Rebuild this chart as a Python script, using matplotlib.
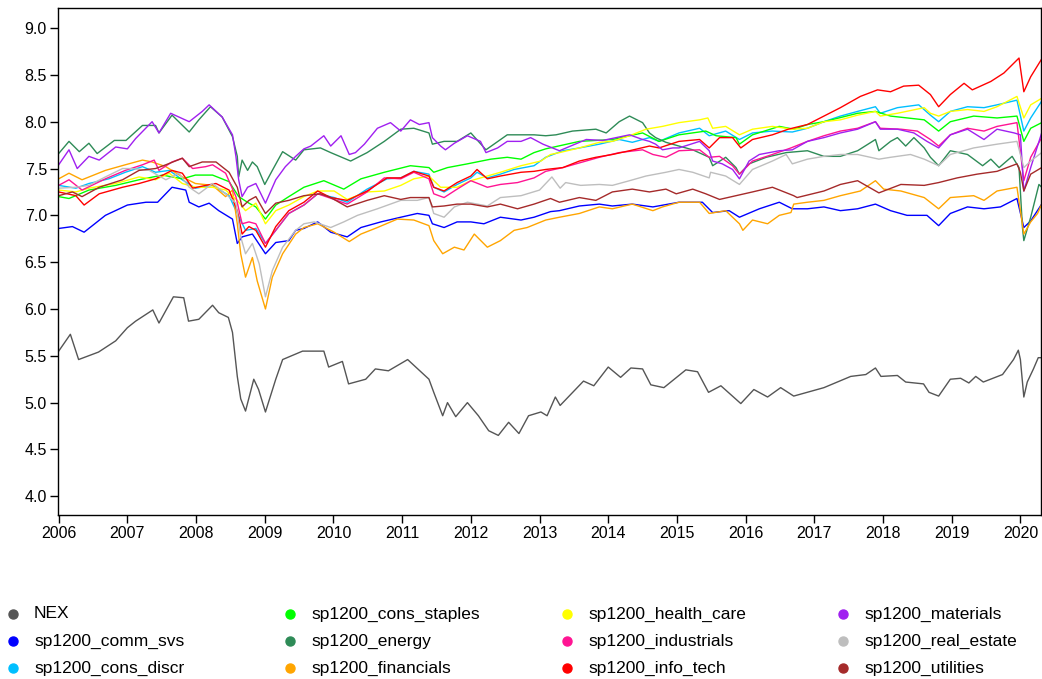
import matplotlib
matplotlib.use("Agg")
from matplotlib import pyplot as plt
from matplotlib.lines import Line2D
import numpy as np

plt.rcParams['font.family'] = ['Liberation Sans', 'DejaVu Sans']

# (year, log level) pairs
nex = [(2006.0, 5.55), (2006.17, 5.73), (2006.29, 5.46), (2006.58, 5.54), (2006.83, 5.66),
       (2007.0, 5.80), (2007.12, 5.87), (2007.37, 5.99), (2007.46, 5.85), (2007.67, 6.13),
       (2007.82, 6.12), (2007.89, 5.87), (2008.04, 5.89), (2008.24, 6.04), (2008.33, 5.96),
       (2008.47, 5.91), (2008.53, 5.75), (2008.6, 5.28), (2008.65, 5.04), (2008.72, 4.91),
       (2008.84, 5.25), (2008.91, 5.14), (2009.01, 4.90), (2009.16, 5.25), (2009.26, 5.46),
       (2009.55, 5.55), (2009.86, 5.55), (2009.93, 5.38), (2010.13, 5.44), (2010.22, 5.20),
       (2010.47, 5.25), (2010.61, 5.36), (2010.8, 5.34), (2011.08, 5.46), (2011.39, 5.25),
       (2011.46, 5.11), (2011.59, 4.86), (2011.66, 5.0), (2011.78, 4.85), (2011.95, 5.0),
       (2012.11, 4.86), (2012.26, 4.70), (2012.4, 4.65), (2012.55, 4.79), (2012.7, 4.67),
       (2012.84, 4.86), (2013.02, 4.90), (2013.11, 4.86), (2013.23, 5.06), (2013.3, 4.97),
       (2013.64, 5.23), (2013.79, 5.18), (2014.0, 5.38), (2014.18, 5.27), (2014.33, 5.37),
       (2014.5, 5.36), (2014.62, 5.19), (2014.81, 5.16), (2015.13, 5.35), (2015.3, 5.33),
       (2015.46, 5.11), (2015.64, 5.18), (2015.93, 4.99), (2016.12, 5.14), (2016.32, 5.06),
       (2016.51, 5.16), (2016.7, 5.07), (2017.14, 5.16), (2017.53, 5.28), (2017.75, 5.30),
       (2017.89, 5.37), (2017.97, 5.28), (2018.21, 5.29), (2018.33, 5.22), (2018.59, 5.20),
       (2018.67, 5.11), (2018.81, 5.07), (2018.98, 5.25), (2019.13, 5.26), (2019.25, 5.21),
       (2019.35, 5.28), (2019.46, 5.22), (2019.74, 5.30), (2019.9, 5.46), (2019.97, 5.56),
       (2020.0, 5.46), (2020.05, 5.06), (2020.1, 5.22), (2020.19, 5.36), (2020.26, 5.48),
       (2020.31, 5.48)]

comm_svs = [(2006.0, 6.86), (2006.2, 6.88), (2006.37, 6.82), (2006.68, 7.0), (2007.0, 7.11),
            (2007.27, 7.14), (2007.44, 7.14), (2007.65, 7.30), (2007.85, 7.27), (2007.9, 7.14),
            (2008.04, 7.09), (2008.19, 7.13), (2008.33, 7.05), (2008.53, 6.96), (2008.6, 6.70),
            (2008.67, 6.77), (2008.82, 6.80), (2009.01, 6.59), (2009.16, 6.71), (2009.35, 6.73),
            (2009.45, 6.84), (2009.57, 6.86), (2009.77, 6.93), (2009.96, 6.82), (2010.2, 6.77),
            (2010.4, 6.87), (2010.69, 6.93), (2010.98, 6.98), (2011.22, 7.02), (2011.39, 7.0),
            (2011.44, 6.91), (2011.61, 6.87), (2011.8, 6.93), (2012.0, 6.93), (2012.19, 6.91),
            (2012.43, 6.98), (2012.73, 6.95), (2012.92, 6.98), (2013.16, 7.04), (2013.29, 7.05),
            (2013.58, 7.10), (2013.87, 7.12), (2014.06, 7.10), (2014.35, 7.12), (2014.65, 7.09),
            (2015.03, 7.14), (2015.37, 7.14), (2015.52, 7.03), (2015.76, 7.05), (2015.91, 6.98),
            (2016.2, 7.07), (2016.49, 7.14), (2016.68, 7.07), (2016.9, 7.07), (2017.14, 7.09),
            (2017.38, 7.05), (2017.63, 7.07), (2017.89, 7.12), (2018.11, 7.05), (2018.35, 7.0),
            (2018.64, 7.0), (2018.81, 6.89), (2018.98, 7.02), (2019.23, 7.09), (2019.47, 7.07),
            (2019.71, 7.09), (2019.95, 7.18), (2020.05, 6.87), (2020.15, 6.94), (2020.31, 7.12)]

cons_discr = [(2006.0, 7.32), (2006.25, 7.29), (2006.44, 7.34), (2006.73, 7.39), (2006.97, 7.46),
              (2007.22, 7.52), (2007.41, 7.46), (2007.61, 7.48), (2007.8, 7.38), (2007.99, 7.29),
              (2008.24, 7.32), (2008.48, 7.21), (2008.6, 7.02), (2008.72, 6.84), (2008.87, 6.86),
              (2009.01, 6.70), (2009.16, 6.84), (2009.35, 7.02), (2009.57, 7.11), (2009.77, 7.23),
              (2010.01, 7.19), (2010.2, 7.14), (2010.49, 7.28), (2010.78, 7.39), (2010.98, 7.40),
              (2011.17, 7.47), (2011.39, 7.44), (2011.46, 7.30), (2011.61, 7.25), (2011.8, 7.33),
              (2012.0, 7.40), (2012.09, 7.46), (2012.24, 7.40), (2012.43, 7.44), (2012.63, 7.49),
              (2012.92, 7.53), (2013.09, 7.62), (2013.34, 7.69), (2013.58, 7.72), (2013.87, 7.76),
              (2014.16, 7.81), (2014.35, 7.78), (2014.6, 7.83), (2014.74, 7.79), (2015.03, 7.88),
              (2015.33, 7.93), (2015.47, 7.85), (2015.71, 7.90), (2015.91, 7.81), (2016.1, 7.88),
              (2016.39, 7.90), (2016.68, 7.89), (2016.9, 7.93), (2017.14, 8.0), (2017.38, 8.06),
              (2017.63, 8.11), (2017.89, 8.16), (2017.96, 8.09), (2018.21, 8.15), (2018.52, 8.18),
              (2018.69, 8.07), (2018.81, 8.0), (2018.98, 8.11), (2019.23, 8.16), (2019.47, 8.15),
              (2019.66, 8.18), (2019.95, 8.23), (2020.05, 7.90), (2020.15, 8.04), (2020.31, 8.22)]

cons_staples = [(2006.0, 7.20), (2006.15, 7.18), (2006.44, 7.27), (2006.83, 7.32), (2007.17, 7.38),
                (2007.51, 7.43), (2007.8, 7.39), (2007.99, 7.43), (2008.24, 7.43), (2008.48, 7.36),
                (2008.62, 7.20), (2008.77, 7.13), (2008.87, 7.09), (2009.01, 6.96), (2009.16, 7.11),
                (2009.35, 7.20), (2009.57, 7.30), (2009.86, 7.37), (2010.15, 7.28), (2010.4, 7.39),
                (2010.74, 7.46), (2011.12, 7.53), (2011.39, 7.51), (2011.46, 7.46), (2011.66, 7.51),
                (2011.95, 7.55), (2012.29, 7.60), (2012.53, 7.62), (2012.73, 7.60), (2012.92, 7.67),
                (2013.09, 7.71), (2013.58, 7.79), (2014.06, 7.81), (2014.5, 7.88), (2014.74, 7.79),
                (2015.03, 7.86), (2015.42, 7.90), (2015.57, 7.85), (2015.86, 7.83), (2015.91, 7.76),
                (2016.1, 7.86), (2016.49, 7.95), (2016.7, 7.92), (2016.9, 7.97), (2017.14, 8.0),
                (2017.63, 8.09), (2017.89, 8.11), (2018.11, 8.06), (2018.6, 8.02), (2018.81, 7.90),
                (2018.98, 8.0), (2019.32, 8.06), (2019.66, 8.04), (2019.95, 8.06), (2020.05, 7.79),
                (2020.15, 7.93), (2020.31, 7.99)]

energy = [(2006.0, 7.66), (2006.15, 7.79), (2006.3, 7.68), (2006.44, 7.77), (2006.56, 7.66),
          (2006.81, 7.80), (2006.98, 7.80), (2007.22, 7.96), (2007.41, 7.96), (2007.46, 7.88),
          (2007.65, 8.07), (2007.9, 7.89), (2008.04, 8.02), (2008.21, 8.16), (2008.38, 8.05),
          (2008.53, 7.84), (2008.6, 7.63), (2008.62, 7.41), (2008.67, 7.59), (2008.75, 7.48),
          (2008.82, 7.57), (2008.89, 7.52), (2009.0, 7.33), (2009.11, 7.48), (2009.26, 7.68),
          (2009.45, 7.59), (2009.57, 7.70), (2009.81, 7.72), (2009.96, 7.67), (2010.25, 7.58),
          (2010.49, 7.67), (2010.74, 7.79), (2010.98, 7.92), (2011.17, 7.93), (2011.39, 7.88),
          (2011.44, 7.76), (2011.61, 7.79), (2011.8, 7.79), (2012.0, 7.88), (2012.22, 7.70),
          (2012.53, 7.86), (2012.92, 7.86), (2013.09, 7.85), (2013.24, 7.86), (2013.48, 7.90),
          (2013.82, 7.92), (2013.97, 7.88), (2014.16, 8.0), (2014.31, 8.06), (2014.5, 7.99),
          (2014.6, 7.88), (2014.69, 7.83), (2014.84, 7.78), (2015.03, 7.74), (2015.23, 7.70),
          (2015.47, 7.62), (2015.52, 7.53), (2015.71, 7.62), (2015.86, 7.51), (2015.91, 7.44),
          (2016.05, 7.55), (2016.3, 7.62), (2016.59, 7.67), (2016.9, 7.69), (2017.14, 7.63),
          (2017.38, 7.63), (2017.63, 7.69), (2017.89, 7.81), (2017.94, 7.69), (2018.11, 7.79),
          (2018.21, 7.83), (2018.33, 7.74), (2018.45, 7.83), (2018.6, 7.72), (2018.69, 7.62),
          (2018.81, 7.53), (2018.98, 7.69), (2019.23, 7.65), (2019.45, 7.53), (2019.57, 7.60),
          (2019.69, 7.51), (2019.88, 7.63), (2019.98, 7.51), (2020.03, 6.87), (2020.05, 6.73),
          (2020.15, 6.98), (2020.27, 7.33), (2020.31, 7.30)]

financials = [(2006.0, 7.39), (2006.15, 7.45), (2006.34, 7.38), (2006.68, 7.48), (2006.97, 7.54),
              (2007.22, 7.59), (2007.36, 7.57), (2007.56, 7.52), (2007.8, 7.41), (2007.99, 7.34),
              (2008.24, 7.32), (2008.43, 7.20), (2008.53, 7.27), (2008.6, 6.91), (2008.65, 6.59),
              (2008.72, 6.34), (2008.82, 6.55), (2008.89, 6.30), (2009.01, 6.0), (2009.11, 6.34),
              (2009.26, 6.59), (2009.45, 6.80), (2009.57, 6.87), (2009.77, 6.91), (2010.01, 6.82),
              (2010.23, 6.72), (2010.4, 6.80), (2010.64, 6.87), (2010.93, 6.96), (2011.17, 6.95),
              (2011.39, 6.89), (2011.46, 6.73), (2011.59, 6.59), (2011.76, 6.66), (2011.9, 6.63),
              (2012.05, 6.80), (2012.24, 6.66), (2012.43, 6.73), (2012.63, 6.84), (2012.82, 6.87),
              (2013.09, 6.95), (2013.29, 6.98), (2013.58, 7.02), (2013.87, 7.09), (2014.06, 7.07),
              (2014.35, 7.12), (2014.65, 7.05), (2014.79, 7.09), (2015.03, 7.14), (2015.33, 7.14),
              (2015.47, 7.02), (2015.71, 7.05), (2015.91, 6.91), (2015.96, 6.84), (2016.1, 6.95),
              (2016.32, 6.91), (2016.49, 7.0), (2016.66, 7.03), (2016.7, 7.12), (2016.9, 7.14),
              (2017.14, 7.16), (2017.38, 7.21), (2017.67, 7.26), (2017.89, 7.37), (2018.01, 7.28),
              (2018.26, 7.26), (2018.6, 7.19), (2018.81, 7.07), (2018.98, 7.19), (2019.32, 7.21),
              (2019.47, 7.16), (2019.66, 7.26), (2019.95, 7.30), (2020.05, 6.80), (2020.15, 6.93),
              (2020.25, 7.02), (2020.31, 7.12)]

health_care = [(2006.0, 7.27), (2006.25, 7.25), (2006.44, 7.29), (2006.83, 7.34), (2007.17, 7.41),
               (2007.41, 7.38), (2007.61, 7.45), (2007.8, 7.34), (2007.99, 7.30), (2008.24, 7.30),
               (2008.43, 7.27), (2008.6, 7.16), (2008.72, 7.05), (2008.87, 7.13), (2009.01, 6.91),
               (2009.16, 7.05), (2009.35, 7.11), (2009.57, 7.20), (2009.77, 7.26), (2010.01, 7.26),
               (2010.2, 7.17), (2010.49, 7.25), (2010.74, 7.26), (2010.98, 7.32), (2011.17, 7.39),
               (2011.39, 7.42), (2011.56, 7.30), (2011.8, 7.30), (2012.0, 7.37), (2012.24, 7.42),
               (2012.43, 7.46), (2012.73, 7.53), (2013.02, 7.58), (2013.16, 7.65), (2013.29, 7.67),
               (2013.58, 7.72), (2013.87, 7.78), (2014.06, 7.79), (2014.31, 7.85), (2014.55, 7.92),
               (2014.79, 7.95), (2015.03, 7.99), (2015.33, 8.02), (2015.45, 8.04), (2015.52, 7.93),
               (2015.71, 7.95), (2015.91, 7.86), (2016.1, 7.92), (2016.39, 7.95), (2016.68, 7.92),
               (2016.9, 7.93), (2017.14, 8.0), (2017.38, 8.02), (2017.63, 8.07), (2017.89, 8.11),
               (2017.96, 8.06), (2018.21, 8.09), (2018.6, 8.15), (2018.69, 8.09), (2018.81, 8.06),
               (2018.98, 8.11), (2019.23, 8.13), (2019.47, 8.11), (2019.66, 8.16), (2019.95, 8.27),
               (2020.05, 8.04), (2020.15, 8.18), (2020.31, 8.25)]

industrials = [(2006.0, 7.32), (2006.15, 7.38), (2006.34, 7.27), (2006.68, 7.39), (2006.97, 7.48),
               (2007.22, 7.54), (2007.39, 7.59), (2007.46, 7.48), (2007.65, 7.57), (2007.8, 7.61),
               (2007.95, 7.50), (2008.14, 7.52), (2008.24, 7.54), (2008.43, 7.45), (2008.58, 7.20),
               (2008.67, 6.91), (2008.77, 6.93), (2008.87, 6.91), (2009.01, 6.70), (2009.16, 6.84),
               (2009.35, 7.02), (2009.57, 7.11), (2009.77, 7.23), (2010.01, 7.17), (2010.2, 7.12),
               (2010.49, 7.25), (2010.74, 7.40), (2010.98, 7.39), (2011.17, 7.46), (2011.39, 7.39),
               (2011.46, 7.23), (2011.61, 7.19), (2011.8, 7.28), (2012.0, 7.37), (2012.24, 7.30),
               (2012.43, 7.33), (2012.68, 7.35), (2012.92, 7.40), (2013.09, 7.47), (2013.34, 7.51),
               (2013.58, 7.56), (2013.87, 7.62), (2014.16, 7.67), (2014.5, 7.70), (2014.65, 7.65),
               (2014.84, 7.62), (2015.03, 7.69), (2015.33, 7.70), (2015.47, 7.62), (2015.62, 7.63),
               (2015.81, 7.53), (2015.91, 7.44), (2016.1, 7.58), (2016.39, 7.65), (2016.66, 7.72),
               (2016.9, 7.79), (2017.14, 7.85), (2017.38, 7.90), (2017.63, 7.93), (2017.89, 8.0),
               (2017.96, 7.93), (2018.26, 7.92), (2018.5, 7.90), (2018.69, 7.81), (2018.81, 7.74),
               (2018.98, 7.86), (2019.23, 7.93), (2019.47, 7.90), (2019.66, 7.95), (2019.95, 7.99),
               (2020.05, 7.37), (2020.15, 7.62), (2020.31, 7.83)]

info_tech = [(2006.0, 7.25), (2006.25, 7.21), (2006.37, 7.11), (2006.59, 7.23), (2006.93, 7.30),
             (2007.17, 7.34), (2007.41, 7.39), (2007.65, 7.48), (2007.8, 7.45), (2007.95, 7.29),
             (2008.14, 7.32), (2008.29, 7.34), (2008.48, 7.27), (2008.6, 7.05), (2008.67, 6.80),
             (2008.77, 6.88), (2008.87, 6.84), (2009.01, 6.66), (2009.16, 6.88), (2009.35, 7.05),
             (2009.57, 7.14), (2009.77, 7.26), (2009.96, 7.19), (2010.2, 7.16), (2010.49, 7.26),
             (2010.78, 7.40), (2010.98, 7.40), (2011.17, 7.47), (2011.39, 7.42), (2011.46, 7.30),
             (2011.61, 7.26), (2011.8, 7.35), (2012.0, 7.42), (2012.09, 7.49), (2012.24, 7.39),
             (2012.43, 7.42), (2012.73, 7.46), (2012.92, 7.47), (2013.09, 7.49), (2013.34, 7.51),
             (2013.58, 7.58), (2013.82, 7.62), (2014.06, 7.65), (2014.31, 7.69), (2014.6, 7.74),
             (2014.74, 7.72), (2015.03, 7.79), (2015.33, 7.81), (2015.47, 7.72), (2015.62, 7.83),
             (2015.81, 7.83), (2015.93, 7.72), (2016.1, 7.81), (2016.39, 7.86), (2016.62, 7.92),
             (2016.9, 7.97), (2017.14, 8.06), (2017.38, 8.15), (2017.67, 8.27), (2017.92, 8.34),
             (2018.11, 8.32), (2018.3, 8.38), (2018.52, 8.39), (2018.69, 8.29), (2018.81, 8.16),
             (2018.98, 8.29), (2019.18, 8.41), (2019.3, 8.34), (2019.57, 8.43), (2019.76, 8.52),
             (2019.98, 8.68), (2020.05, 8.32), (2020.15, 8.48), (2020.31, 8.67)]

materials = [(2006.0, 7.54), (2006.15, 7.70), (2006.27, 7.50), (2006.44, 7.63), (2006.59, 7.59),
             (2006.83, 7.73), (2007.0, 7.71), (2007.12, 7.82), (2007.36, 8.0), (2007.46, 7.88),
             (2007.63, 8.09), (2007.9, 8.0), (2008.09, 8.11), (2008.19, 8.18), (2008.38, 8.05),
             (2008.53, 7.86), (2008.58, 7.63), (2008.62, 7.38), (2008.67, 7.20), (2008.75, 7.30),
             (2008.87, 7.34), (2009.01, 7.13), (2009.16, 7.38), (2009.3, 7.52), (2009.45, 7.63),
             (2009.57, 7.71), (2009.67, 7.74), (2009.86, 7.85), (2009.96, 7.74), (2010.11, 7.85),
             (2010.23, 7.65), (2010.32, 7.67), (2010.45, 7.76), (2010.64, 7.93), (2010.83, 7.99),
             (2010.98, 7.90), (2011.12, 8.02), (2011.25, 7.97), (2011.39, 7.99), (2011.44, 7.83),
             (2011.56, 7.74), (2011.63, 7.70), (2011.76, 7.77), (2011.95, 7.85), (2012.14, 7.79),
             (2012.22, 7.67), (2012.39, 7.72), (2012.53, 7.79), (2012.73, 7.79), (2012.87, 7.83),
             (2013.05, 7.76), (2013.29, 7.69), (2013.68, 7.81), (2013.92, 7.80), (2014.31, 7.86),
             (2014.5, 7.81), (2014.6, 7.79), (2014.69, 7.76), (2014.79, 7.70), (2014.94, 7.72),
             (2015.03, 7.72), (2015.33, 7.79), (2015.47, 7.69), (2015.52, 7.58), (2015.66, 7.55),
             (2015.81, 7.49), (2015.91, 7.39), (2016.05, 7.58), (2016.2, 7.65), (2016.49, 7.69),
             (2016.68, 7.70), (2016.9, 7.79), (2017.14, 7.83), (2017.38, 7.88), (2017.63, 7.92),
             (2017.89, 8.0), (2017.96, 7.92), (2018.21, 7.92), (2018.45, 7.88), (2018.64, 7.79),
             (2018.81, 7.72), (2018.98, 7.86), (2019.23, 7.92), (2019.47, 7.81), (2019.66, 7.92),
             (2019.91, 7.88), (2020.0, 7.86), (2020.05, 7.26), (2020.15, 7.51), (2020.31, 7.88)]

real_estate = [(2006.0, 7.29), (2006.25, 7.30), (2006.44, 7.32), (2006.68, 7.41), (2006.93, 7.50),
               (2007.07, 7.50), (2007.32, 7.48), (2007.56, 7.38), (2007.75, 7.45), (2007.9, 7.30),
               (2008.04, 7.23), (2008.24, 7.34), (2008.43, 7.23), (2008.58, 7.13), (2008.65, 6.77),
               (2008.72, 6.59), (2008.82, 6.70), (2008.92, 6.48), (2009.01, 6.13), (2009.11, 6.41),
               (2009.26, 6.66), (2009.45, 6.84), (2009.57, 6.91), (2009.72, 6.93), (2009.96, 6.87),
               (2010.15, 6.93), (2010.35, 7.0), (2010.64, 7.07), (2010.98, 7.16), (2011.22, 7.16),
               (2011.39, 7.19), (2011.46, 7.02), (2011.61, 6.98), (2011.76, 7.09), (2011.95, 7.14),
               (2012.24, 7.10), (2012.43, 7.19), (2012.73, 7.21), (2013.0, 7.27), (2013.18, 7.41),
               (2013.3, 7.29), (2013.38, 7.35), (2013.6, 7.32), (2013.87, 7.33), (2014.06, 7.32),
               (2014.31, 7.37), (2014.55, 7.42), (2014.84, 7.46), (2015.03, 7.49), (2015.23, 7.46),
               (2015.47, 7.40), (2015.49, 7.46), (2015.71, 7.42), (2015.91, 7.33), (2016.1, 7.49),
               (2016.39, 7.58), (2016.59, 7.65), (2016.68, 7.55), (2016.9, 7.60), (2017.14, 7.63),
               (2017.38, 7.65), (2017.63, 7.65), (2017.94, 7.60), (2018.11, 7.62), (2018.4, 7.65),
               (2018.6, 7.60), (2018.81, 7.53), (2018.98, 7.65), (2019.32, 7.72), (2019.66, 7.76),
               (2019.95, 7.79), (2020.05, 7.51), (2020.15, 7.58), (2020.31, 7.67)]

utilities = [(2006.0, 7.21), (2006.2, 7.25), (2006.34, 7.20), (2006.59, 7.30), (2006.93, 7.38),
             (2007.17, 7.48), (2007.41, 7.50), (2007.56, 7.54), (2007.8, 7.61), (2007.9, 7.52),
             (2008.09, 7.57), (2008.29, 7.57), (2008.48, 7.46), (2008.6, 7.30), (2008.67, 7.09),
             (2008.77, 7.16), (2008.87, 7.20), (2009.01, 7.02), (2009.16, 7.13), (2009.35, 7.16),
             (2009.57, 7.21), (2009.81, 7.23), (2009.96, 7.19), (2010.2, 7.09), (2010.49, 7.16),
             (2010.74, 7.21), (2010.98, 7.17), (2011.12, 7.19), (2011.39, 7.19), (2011.44, 7.09),
             (2011.61, 7.10), (2011.8, 7.12), (2012.0, 7.12), (2012.24, 7.09), (2012.43, 7.12),
             (2012.68, 7.07), (2012.92, 7.12), (2013.16, 7.18), (2013.29, 7.14), (2013.58, 7.19),
             (2013.82, 7.16), (2014.06, 7.25), (2014.35, 7.28), (2014.6, 7.25), (2014.84, 7.28),
             (2014.99, 7.23), (2015.23, 7.28), (2015.42, 7.23), (2015.62, 7.17), (2015.86, 7.21),
             (2016.1, 7.25), (2016.39, 7.30), (2016.7, 7.21), (2016.75, 7.19), (2017.14, 7.26),
             (2017.38, 7.33), (2017.63, 7.37), (2017.94, 7.24), (2018.26, 7.33), (2018.6, 7.32),
             (2018.81, 7.35), (2019.08, 7.40), (2019.37, 7.44), (2019.66, 7.47), (2019.95, 7.55),
             (2020.0, 7.46), (2020.05, 7.26), (2020.15, 7.44), (2020.31, 7.51)]

names = ['NEX', 'sp1200_comm_svs', 'sp1200_cons_discr', 'sp1200_cons_staples',
         'sp1200_energy', 'sp1200_financials', 'sp1200_health_care', 'sp1200_industrials',
         'sp1200_info_tech', 'sp1200_materials', 'sp1200_real_estate', 'sp1200_utilities']
series = [nex, comm_svs, cons_discr, cons_staples, energy, financials, health_care,
          industrials, info_tech, materials, real_estate, utilities]
colours = ['#555555', '#0000FF', '#00BFFF', '#00FF00', '#2E8B57', '#FFA500',
           '#FFFF00', '#FF1493', '#FF0000', '#A020F0', '#BEBEBE', '#A52A2A']

W, H = 1042, 679
fig = plt.figure(figsize=(W/100, H/100), dpi=100)
ax = fig.add_axes([58/W, 1 - 515/H, 983/W, 506.6/H])

for s, c in zip(series, colours):
    t, v = np.array(s).T
    ax.plot(t, v, color=c, lw=1.0)

ax.set_xlim(2005.99, 2020.30)
ax.set_ylim(3.80, 9.21)
ax.set_xticks(range(2006, 2021))
ax.set_yticks(np.arange(4.0, 9.01, 0.5))
ax.yaxis.set_major_formatter('{x:.1f}')
ax.tick_params(direction='out', length=6, width=1, labelsize=11.5, pad=2)
for sp in ax.spines.values():
    sp.set_linewidth(1)

# legend: 4 columns x 3 rows under the plot
col_x = [13, 290, 567, 843]
row_y = [614, 641, 668]
for i, (n, c) in enumerate(zip(names, colours)):
    x, y = col_x[i // 3], row_y[i % 3]
    fig.add_artist(Line2D([x/W], [1 - y/H], transform=fig.transFigure, marker='o',
                          markersize=6.5, color=c, linestyle=''))
    fig.text((x + 21)/W, 1 - y/H, n, fontsize=12.5, va='center', ha='left')

fig.savefig('out.png', dpi=100)
